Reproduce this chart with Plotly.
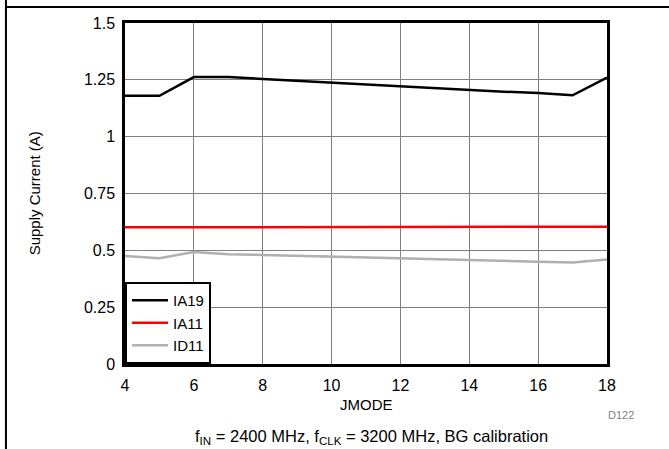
import plotly.graph_objects as go

jmode = [4, 5, 6, 7, 8, 9, 10, 11, 12, 13, 14, 15, 16, 17, 18]
ia19 = [1.18, 1.18, 1.262, 1.262, 1.254, 1.246, 1.238, 1.229, 1.22, 1.213, 1.205, 1.198, 1.192, 1.182, 1.26]
ia11 = [0.601, 0.601, 0.602, 0.603, 0.603, 0.603, 0.603, 0.603, 0.603, 0.603, 0.603, 0.603, 0.603, 0.603, 0.604]
id11 = [0.475, 0.465, 0.493, 0.483, 0.48, 0.476, 0.472, 0.468, 0.463, 0.46, 0.456, 0.453, 0.45, 0.447, 0.46]

x_ticks = [4, 6, 8, 10, 12, 14, 16, 18]
y_ticks = [0, 0.25, 0.5, 0.75, 1, 1.25, 1.5]
y_tick_text = ["0", "0.25", "0.5", "0.75", "1", "1.25", "1.5"]

FONT = "Liberation Sans, Arial, sans-serif"

fig = go.Figure()
fig.add_trace(go.Scatter(x=jmode, y=ia19, mode="lines", name="IA19",
                         line=dict(color="black", width=2.5)))
fig.add_trace(go.Scatter(x=jmode, y=ia11, mode="lines", name="IA11",
                         line=dict(color="#ff0000", width=2.5)))
fig.add_trace(go.Scatter(x=jmode, y=id11, mode="lines", name="ID11",
                         line=dict(color="#b0b0b0", width=2.5)))

fig.update_layout(
    width=669, height=449,
    margin=dict(l=125, r=62, t=23, b=85),
    paper_bgcolor="white", plot_bgcolor="white",
    font=dict(family=FONT, size=16, color="black"),
    showlegend=True,
    legend=dict(x=0, y=0, xanchor="left", yanchor="bottom",
                bordercolor="black", borderwidth=2, bgcolor="white",
                font=dict(size=15, family=FONT), tracegroupgap=0,
                itemwidth=36, entrywidth=60),
    xaxis=dict(range=[4, 18], tickvals=x_ticks, showgrid=True,
               gridcolor="#808080", gridwidth=1, zeroline=False,
               showline=True, linecolor="black", linewidth=2.5, mirror=True,
               ticks="", tickfont=dict(size=16), ticklabelstandoff=5),
    yaxis=dict(range=[0, 1.5], tickvals=y_ticks, ticktext=y_tick_text,
               showgrid=True, gridcolor="#808080", gridwidth=1, zeroline=False,
               showline=True, linecolor="black", linewidth=2.5, mirror=True,
               ticks="", tickfont=dict(size=16), ticklabelstandoff=4),
    shapes=[
        dict(type="line", xref="paper", yref="paper", x0=-0.247, x1=1.2,
             y0=1.047, y1=1.047, line=dict(color="black", width=2)),
        dict(type="line", xref="paper", yref="paper", x0=-0.247, x1=-0.247,
             y0=-0.3, y1=1.1, line=dict(color="black", width=2)),
    ],
    annotations=[
        dict(text="Supply Current (A)", xref="paper", yref="paper",
             x=-0.187, y=0.5, xanchor="center", yanchor="middle",
             textangle=-90, showarrow=False,
             font=dict(size=15, color="black", family=FONT)),
        dict(text="JMODE", xref="paper", yref="paper", x=0.5, y=-0.12,
             xanchor="center", yanchor="middle", showarrow=False,
             font=dict(size=15, color="black", family=FONT)),
        dict(text="D122", xref="paper", yref="paper", x=1.03, y=-0.15,
             xanchor="center", yanchor="middle", showarrow=False,
             font=dict(size=11, color="#808080", family=FONT)),
        dict(text="f<sub>IN</sub> = 2400 MHz, f<sub>CLK</sub> = 3200 MHz, BG calibration",
             xref="paper", yref="paper", x=0.512, y=-0.215,
             xanchor="center", yanchor="middle", showarrow=False,
             font=dict(size=16.5, color="black", family=FONT)),
    ],
)

fig.write_html("out.html", config={"displayModeBar": False},
               post_script="document.body.style.margin='0px';document.body.style.overflow='hidden';")
